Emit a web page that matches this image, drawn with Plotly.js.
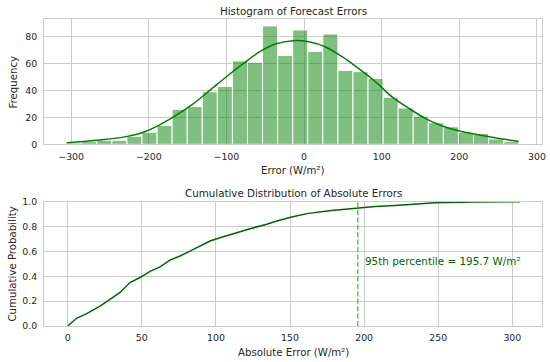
<!DOCTYPE html>
<html>
<head>
<meta charset="utf-8">
<script src="https://cdn.plot.ly/plotly-3.0.1.min.js"></script>
<style>html,body{margin:0;padding:0;background:#fff}#chart{width:550px;height:362px}</style>
</head>
<body>
<div id="chart"></div>
<script>
// Histogram of forecast errors (30 bins)
const binStart = -305.8;
const binEnd = 276.5;
const histCounts = [1, 2, 3, 3, 6, 9, 14, 26, 28, 39, 43, 62, 61, 88, 66, 85, 69, 82, 55, 54, 49, 35, 27, 21, 16, 13, 9, 8, 4, 2];

// KDE curve
const kdeX = [-305.8, -263, -229, -207, -186, -164, -143, -121, -100, -78, -57, -37, -14, 6, 27, 49, 70, 92, 113, 135, 156, 178, 199, 221, 242, 264, 276.5];
const kdeY = [1.2, 3.2, 5.7, 8.9, 14.4, 21.8, 30, 40.3, 50.2, 60.1, 68.8, 74.5, 77, 76.2, 72.5, 65.1, 56.4, 46.5, 35.4, 26.7, 19.3, 13.6, 10.1, 7.4, 5.2, 3.2, 2];

// Cumulative distribution of absolute errors
const cdfX = [0, 6, 12.8, 21.8, 28.5, 35.3, 42, 48.8, 55.5, 62.3, 69, 75.8, 82.5, 89.3, 96, 102.8, 111.7, 123, 134.3, 139.9, 151.1, 162.3, 178.1, 195, 207.4, 220.9, 234.4, 247.8, 274.8, 305.2];
const cdfY = [0, 0.062, 0.10, 0.16, 0.215, 0.27, 0.35, 0.39, 0.44, 0.475, 0.53, 0.563, 0.603, 0.643, 0.684, 0.71, 0.743, 0.783, 0.818, 0.84, 0.877, 0.906, 0.93, 0.949, 0.962, 0.97, 0.984, 0.992, 0.997, 1.0];
const p95 = 195.7;

// Text
const topTitle = 'Histogram of Forecast Errors';
const topXLabel = 'Error (W/m²)';
const topYLabel = 'Frequency';
const botTitle = 'Cumulative Distribution of Absolute Errors';
const botXLabel = 'Absolute Error (W/m²)';
const botYLabel = 'Cumulative Probability';

const binW = (binEnd - binStart) / histCounts.length;
const binCenters = histCounts.map((_, i) => binStart + binW * (i + 0.5));

const FONT = 'DejaVu Sans, sans-serif';
const TXT = '#262626';
const GRID = '#cccccc';
const W = 550, H = 362;
const px = v => v / W;
const py = v => (H - v) / H;

const axBase = {
  showgrid: true, gridcolor: GRID, gridwidth: 1,
  showline: true, linecolor: GRID, linewidth: 1, mirror: true,
  zeroline: false, ticks: '', tickfont: {family: FONT, size: 9.4, color: TXT},
  fixedrange: true
};

const traces = [
  {type: 'bar', x: binCenters, y: histCounts, width: binW, xaxis: 'x', yaxis: 'y',
   marker: {color: 'rgba(0,128,0,0.5)', line: {color: '#ffffff', width: 1}}, hoverinfo: 'skip'},
  {type: 'scatter', mode: 'lines', x: kdeX, y: kdeY, xaxis: 'x', yaxis: 'y',
   line: {color: '#008000', width: 1.5, shape: 'spline'}, hoverinfo: 'skip'},
  {type: 'scatter', mode: 'lines', x: cdfX, y: cdfY, xaxis: 'x2', yaxis: 'y2',
   line: {color: '#006400', width: 1.5}, hoverinfo: 'skip'}
];

const lbl = (text, x, y, rot) => ({text, xref: 'paper', yref: 'paper', x, y, xanchor: 'center', yanchor: 'middle',
  textangle: rot || 0, showarrow: false, font: {family: FONT, size: 10.2, color: TXT}});

const layout = {
  width: W, height: H,
  margin: {l: 0, r: 0, t: 0, b: 0},
  paper_bgcolor: '#ffffff', plot_bgcolor: '#ffffff',
  showlegend: false, bargap: 0,
  font: {family: FONT, color: TXT},
  xaxis: Object.assign({}, axBase, {
    domain: [px(44), px(542)], range: [-335, 306.5], tickvals: [-300, -200, -100, 0, 100, 200, 300],
    anchor: 'y', ticklabelstandoff: 3
  }),
  yaxis: Object.assign({}, axBase, {
    domain: [py(144.3), py(19.3)], range: [0, 92.9], tickvals: [0, 20, 40, 60, 80],
    anchor: 'x', ticklabelstandoff: 4
  }),
  xaxis2: Object.assign({}, axBase, {
    domain: [px(44), px(542)], range: [-16, 320], tickvals: [0, 50, 100, 150, 200, 250, 300],
    anchor: 'y2', ticklabelstandoff: 3
  }),
  yaxis2: Object.assign({}, axBase, {
    domain: [py(326), py(201.7)], range: [0, 1], tickvals: [0, 0.2, 0.4, 0.6, 0.8, 1.0],
    tickformat: '.1f', anchor: 'x2', ticklabelstandoff: 4
  }),
  shapes: [
    {type: 'line', xref: 'x2', yref: 'y2 domain', x0: p95, x1: p95, y0: 0, y1: 1,
     line: {color: '#32cd32', width: 1.3, dash: '5px,2.4px'}}
  ],
  annotations: [
    Object.assign(lbl(topTitle, px(293), py(10.8)), {font: {family: FONT, size: 10.3, color: TXT}}),
    Object.assign(lbl(botTitle, px(293), py(193)), {font: {family: FONT, size: 10.3, color: TXT}}),
    lbl(topXLabel, px(293), py(171)),
    lbl(botXLabel, px(293), py(352.7)),
    lbl(topYLabel, px(13.5), py(82), -90),
    lbl(botYLabel, px(11.5), py(264), -90),
    {text: '95th percentile = ' + p95.toFixed(1) + ' W/m²', xref: 'x2', yref: 'y2', x: p95 + 3.5, y: 0.523,
     xanchor: 'left', yanchor: 'middle', showarrow: false, font: {family: FONT, size: 10.4, color: '#006400'}}
  ]
};

Plotly.newPlot('chart', traces, layout, {displayModeBar: false, staticPlot: true});
</script>
</body>
</html>
